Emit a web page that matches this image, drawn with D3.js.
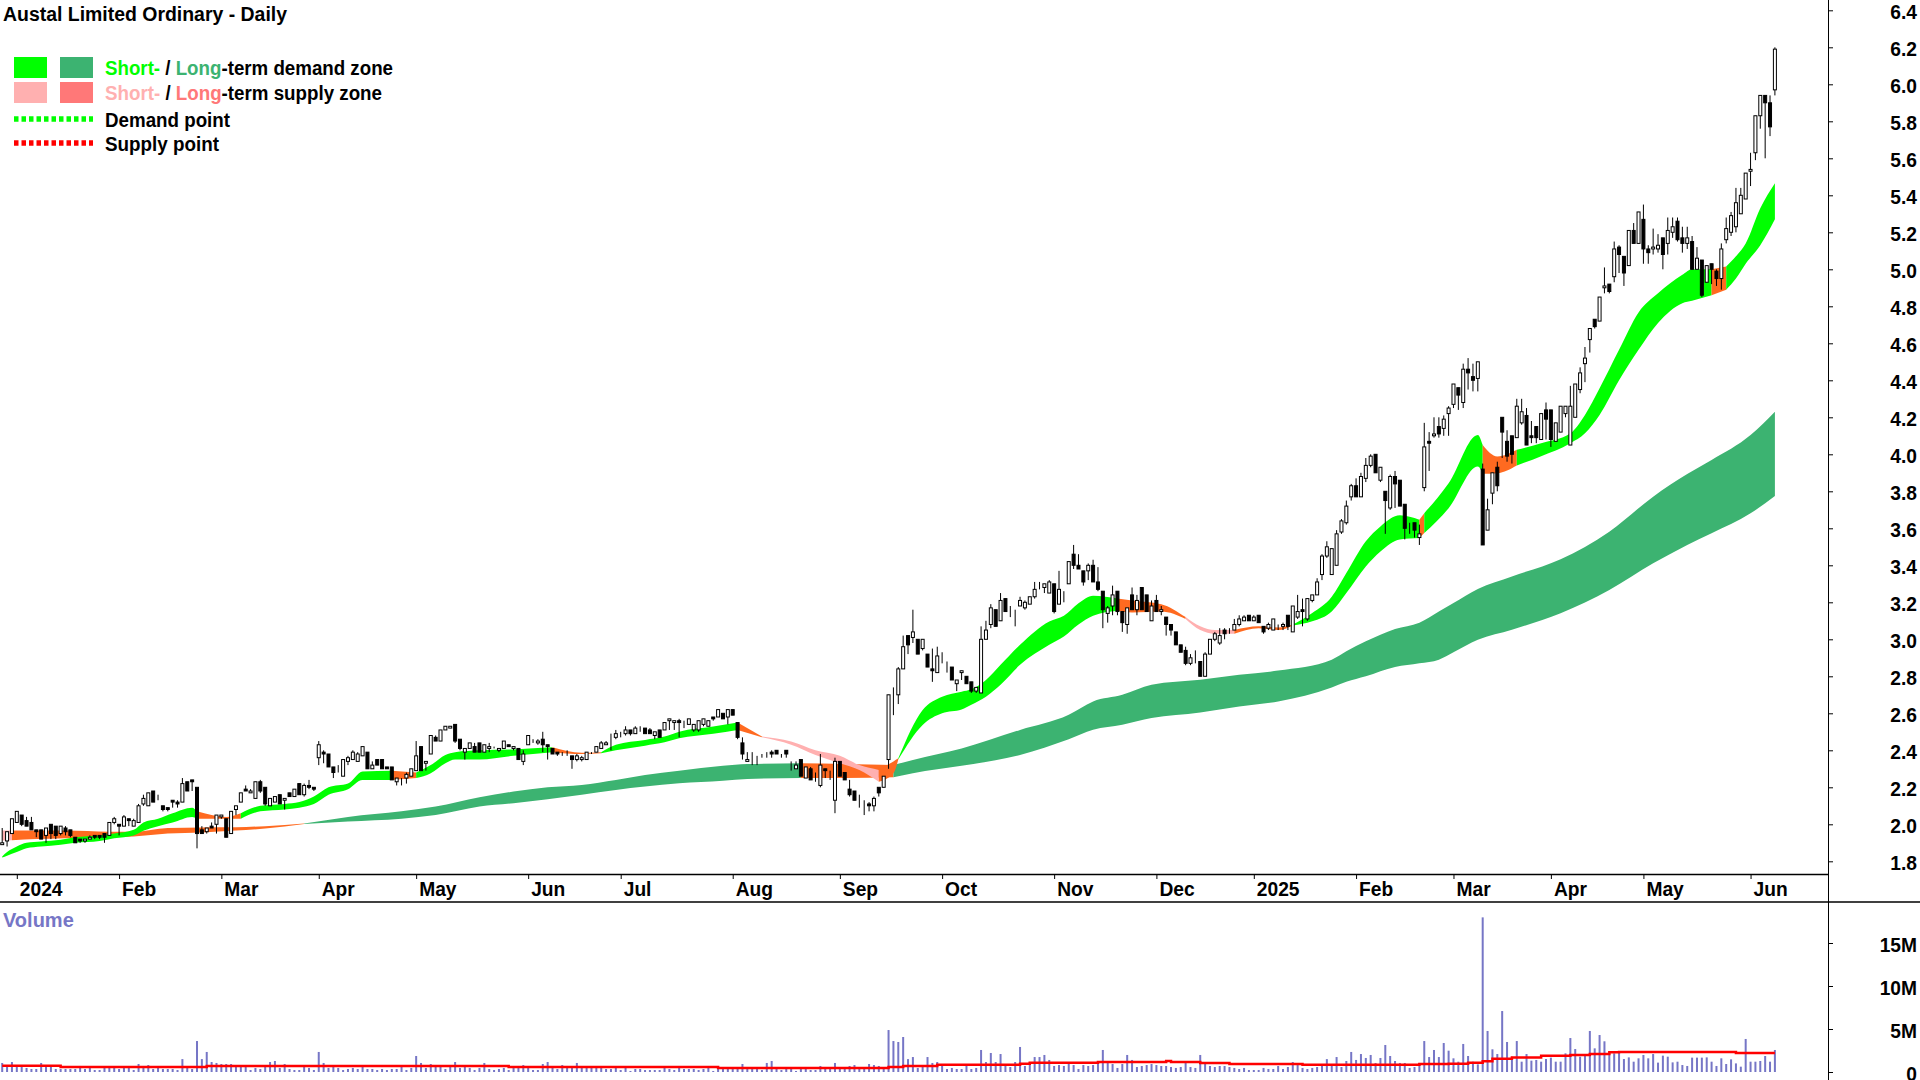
<!DOCTYPE html>
<html>
<head>
<meta charset="utf-8">
<title>Austal Limited Ordinary - Daily</title>
<script src="https://cdn.jsdelivr.net/npm/d3@7"></script>
<style>
    body { margin: 0; background: #fff; }
    svg { display: block; }
    text { font-family: "Liberation Sans", Arial, sans-serif; font-weight: bold; }
</style>
</head>
<body>
<div id="chart"></div>
<script>
// daily bars: open, high, low, close
const ohlc = [
[1.89,1.98,1.89,1.90],[1.91,1.96,1.88,1.96],[1.95,2.03,1.95,2.03],[2.01,2.07,2.01,2.07],[2.05,2.05,1.99,2.00],[2.02,2.04,1.99,1.99],[2.01,2.04,1.97,1.97],[1.97,1.97,1.93,1.96],[1.97,1.97,1.92,1.92],[1.94,1.98,1.90,1.98],
[2.00,2.00,1.92,1.95],[1.99,1.99,1.92,1.94],[1.95,1.99,1.94,1.99],[1.98,1.99,1.94,1.96],[1.97,1.97,1.93,1.94],[1.93,1.93,1.90,1.90],[1.92,1.92,1.90,1.91],[1.91,1.92,1.90,1.92],[1.92,1.94,1.92,1.93],[1.94,1.94,1.92,1.93],
[1.94,1.94,1.92,1.93],[1.95,1.95,1.90,1.93],[1.94,2.01,1.94,2.01],[2.01,2.04,2.00,2.03],[2.00,2.00,1.94,1.99],[1.99,2.05,1.99,2.04],[2.03,2.03,1.99,2.02],[1.99,2.03,1.99,2.02],[2.01,2.11,2.01,2.10],[2.11,2.16,2.10,2.14],
[2.10,2.17,2.10,2.17],[2.18,2.18,2.12,2.12],[2.13,2.16,2.13,2.13],[2.10,2.10,2.07,2.08],[2.09,2.09,2.07,2.08],[2.13,2.13,2.09,2.12],[2.12,2.13,2.09,2.11],[2.12,2.25,2.12,2.22],[2.23,2.23,2.18,2.18],[2.24,2.24,2.18,2.23],
[2.20,2.20,1.87,1.95],[1.97,1.99,1.95,1.95],[1.96,1.98,1.95,1.98],[1.99,2.01,1.98,1.98],[2.00,2.05,1.95,2.05],[2.04,2.05,2.03,2.05],[2.03,2.03,1.93,1.93],[1.95,2.07,1.95,2.07],[2.08,2.10,2.05,2.10],[2.12,2.17,2.12,2.17],
[2.19,2.21,2.18,2.18],[2.17,2.19,2.17,2.18],[2.14,2.23,2.14,2.23],[2.23,2.24,2.17,2.18],[2.20,2.20,2.10,2.11],[2.10,2.14,2.10,2.14],[2.12,2.15,2.12,2.15],[2.16,2.16,2.11,2.11],[2.13,2.14,2.08,2.14],[2.17,2.17,2.15,2.15],
[2.15,2.19,2.15,2.19],[2.22,2.22,2.16,2.16],[2.16,2.22,2.15,2.21],[2.21,2.24,2.19,2.20],[2.20,2.20,2.18,2.19],[2.36,2.45,2.32,2.43],[2.39,2.40,2.33,2.38],[2.38,2.38,2.31,2.31],[2.31,2.31,2.25,2.28],[2.30,2.32,2.28,2.30],
[2.26,2.35,2.26,2.35],[2.34,2.37,2.32,2.36],[2.35,2.40,2.35,2.39],[2.34,2.39,2.34,2.38],[2.37,2.42,2.37,2.42],[2.39,2.39,2.30,2.30],[2.30,2.34,2.30,2.32],[2.35,2.35,2.32,2.32],[2.35,2.35,2.30,2.30],[2.31,2.31,2.30,2.30],
[2.31,2.31,2.24,2.24],[2.23,2.25,2.21,2.25],[2.25,2.25,2.21,2.25],[2.25,2.28,2.22,2.27],[2.26,2.30,2.26,2.30],[2.29,2.45,2.29,2.37],[2.42,2.42,2.29,2.29],[2.33,2.34,2.29,2.34],[2.38,2.48,2.38,2.48],[2.47,2.48,2.45,2.45],
[2.45,2.51,2.45,2.51],[2.51,2.53,2.51,2.53],[2.52,2.53,2.52,2.53],[2.54,2.54,2.44,2.45],[2.46,2.46,2.40,2.41],[2.39,2.41,2.35,2.41],[2.41,2.44,2.41,2.44],[2.42,2.44,2.39,2.39],[2.44,2.44,2.39,2.39],
[2.39,2.43,2.39,2.43],[2.41,2.44,2.39,2.42],[2.42,2.42,2.41,2.42],[2.40,2.41,2.39,2.41],[2.41,2.45,2.41,2.45],[2.43,2.43,2.42,2.42],[2.41,2.42,2.40,2.42],[2.41,2.41,2.35,2.35],[2.34,2.40,2.32,2.38],[2.43,2.48,2.43,2.48],
[2.45,2.46,2.44,2.45],[2.44,2.46,2.43,2.45],[2.46,2.50,2.39,2.43],[2.43,2.43,2.35,2.42],[2.41,2.41,2.38,2.38],[2.39,2.39,2.37,2.38],[2.38,2.39,2.37,2.38],[2.38,2.40,2.37,2.38],[2.37,2.37,2.30,2.35],[2.35,2.38,2.34,2.37],
[2.35,2.37,2.34,2.36],[2.35,2.39,2.35,2.39],[2.39,2.39,2.38,2.39],[2.39,2.42,2.39,2.42],[2.41,2.45,2.41,2.44],[2.43,2.45,2.43,2.44],[2.47,2.49,2.40,2.47],[2.47,2.51,2.46,2.49],[2.48,2.50,2.47,2.48],[2.49,2.53,2.48,2.51],
[2.51,2.51,2.48,2.49],[2.49,2.53,2.49,2.52],[2.51,2.53,2.50,2.51],[2.52,2.52,2.49,2.49],[2.51,2.52,2.49,2.49],[2.48,2.50,2.46,2.50],[2.51,2.51,2.47,2.47],[2.51,2.55,2.51,2.55],[2.56,2.57,2.51,2.57],[2.55,2.56,2.51,2.56],
[2.56,2.57,2.47,2.55],[2.55,2.56,2.52,2.55],[2.54,2.57,2.54,2.57],[2.51,2.54,2.50,2.54],[2.51,2.56,2.50,2.56],[2.54,2.57,2.53,2.57],[2.53,2.56,2.53,2.56],[2.58,2.58,2.56,2.57],[2.58,2.62,2.58,2.62],[2.60,2.60,2.57,2.57],
[2.58,2.62,2.54,2.62],[2.62,2.62,2.59,2.59],[2.55,2.55,2.46,2.47],[2.44,2.47,2.35,2.38],[2.34,2.39,2.34,2.35],[2.36,2.39,2.32,2.36],[2.35,2.37,2.32,2.35],[2.38,2.38,2.36,2.38],[2.38,2.39,2.36,2.38],[2.39,2.40,2.36,2.38],
[2.40,2.40,2.38,2.38],[2.38,2.38,2.36,2.38],[2.40,2.40,2.36,2.38],[2.32,2.34,2.29,2.32],[2.30,2.34,2.30,2.32],[2.35,2.35,2.26,2.26],[2.25,2.31,2.25,2.31],[2.30,2.31,2.24,2.24],[2.25,2.28,2.23,2.25],[2.21,2.38,2.20,2.32],
[2.30,2.30,2.25,2.29],[2.28,2.29,2.24,2.28],[2.13,2.36,2.06,2.34],[2.34,2.34,2.26,2.26],[2.28,2.28,2.24,2.24],[2.19,2.24,2.15,2.16],[2.18,2.18,2.13,2.13],[2.12,2.16,2.09,2.12],[2.10,2.13,2.05,2.10],[2.11,2.12,2.07,2.10],
[2.10,2.15,2.07,2.14],[2.20,2.20,2.15,2.17],[2.20,2.26,2.20,2.26],[2.35,2.70,2.30,2.70],[2.71,2.74,2.59,2.71],[2.70,2.85,2.65,2.84],[2.84,3.02,2.84,2.96],[3.02,3.02,2.92,2.97],[3.01,3.16,2.98,3.04],[3.00,3.00,2.92,2.92],
[2.95,3.00,2.94,3.00],[2.92,2.92,2.85,2.85],[2.84,2.95,2.77,2.83],[2.82,2.96,2.82,2.91],[2.88,2.93,2.87,2.88],[2.85,2.88,2.82,2.85],[2.85,2.85,2.78,2.78],[2.76,2.78,2.72,2.78],[2.82,2.83,2.78,2.83],[2.80,2.80,2.76,2.76],
[2.77,2.77,2.71,2.72],[2.72,2.74,2.71,2.74],[2.71,3.07,2.71,3.00],[3.00,3.10,3.00,3.05],[3.08,3.19,3.06,3.17],[3.16,3.16,3.07,3.07],[3.10,3.25,3.10,3.21],[3.22,3.22,3.15,3.15],[3.16,3.18,3.12,3.16],[3.15,3.16,3.07,3.15],
[3.18,3.23,3.18,3.21],[3.17,3.21,3.16,3.20],[3.19,3.23,3.19,3.23],[3.23,3.31,3.22,3.27],[3.28,3.31,3.27,3.28],[3.28,3.30,3.25,3.30],[3.25,3.32,3.25,3.31],[3.30,3.30,3.14,3.15],[3.19,3.37,3.19,3.27],[3.25,3.26,3.20,3.25],
[3.30,3.42,3.30,3.42],[3.46,3.51,3.38,3.40],[3.40,3.46,3.38,3.38],[3.37,3.37,3.29,3.31],[3.37,3.41,3.32,3.40],[3.40,3.43,3.31,3.31],[3.31,3.39,3.26,3.27],[3.26,3.26,3.06,3.16],[3.14,3.18,3.09,3.17],[3.18,3.29,3.13,3.24],
[3.26,3.26,3.13,3.15],[3.15,3.15,3.04,3.09],[3.08,3.17,3.03,3.17],[3.24,3.28,3.16,3.16],[3.16,3.24,3.13,3.21],[3.28,3.28,3.16,3.16],[3.24,3.24,3.15,3.15],[3.10,3.21,3.10,3.18],[3.21,3.24,3.15,3.15],[3.15,3.18,3.13,3.16],
[3.12,3.12,3.02,3.08],[3.08,3.08,3.02,3.05],[3.04,3.04,2.97,2.97],[2.97,2.97,2.93,2.93],[2.94,2.96,2.86,2.87],[2.87,2.92,2.86,2.90],[2.88,2.94,2.87,2.88],[2.88,2.88,2.80,2.80],[2.80,2.93,2.80,2.92],[2.92,3.00,2.92,3.00],
[3.00,3.04,2.99,3.03],[2.98,3.06,2.97,3.02],[3.05,3.06,3.00,3.03],[3.05,3.06,3.03,3.05],[3.05,3.11,3.05,3.08],[3.08,3.13,3.07,3.11],[3.10,3.13,3.10,3.12],[3.13,3.13,3.10,3.10],[3.10,3.13,3.10,3.12],[3.13,3.13,3.09,3.09],
[3.07,3.07,3.03,3.04],[3.06,3.09,3.05,3.08],[3.05,3.11,3.05,3.11],[3.07,3.08,3.05,3.07],
[3.07,3.09,3.05,3.08],[3.13,3.13,3.05,3.07],[3.04,3.18,3.04,3.18],[3.12,3.24,3.11,3.15],[3.16,3.22,3.07,3.15],[3.11,3.22,3.10,3.22],[3.21,3.24,3.20,3.24],[3.24,3.33,3.24,3.31],[3.35,3.46,3.32,3.45],[3.45,3.53,3.44,3.50],
[3.35,3.49,3.35,3.49],[3.40,3.59,3.40,3.57],[3.58,3.65,3.57,3.64],[3.63,3.75,3.62,3.72],[3.77,3.84,3.75,3.83],[3.83,3.87,3.77,3.77],[3.77,3.90,3.77,3.88],[3.87,3.98,3.85,3.94],[3.94,4.00,3.93,3.99],[4.00,4.00,3.90,3.90],
[3.86,3.93,3.85,3.93],[3.80,3.80,3.57,3.75],[3.71,3.89,3.70,3.88],[3.88,3.91,3.71,3.84],[3.86,3.86,3.72,3.72],[3.73,3.73,3.54,3.60],[3.61,3.63,3.57,3.61],[3.63,3.63,3.55,3.59],[3.55,3.62,3.51,3.57],[3.82,4.17,3.80,4.04],
[4.07,4.12,3.91,4.06],[4.10,4.20,4.09,4.11],[4.15,4.20,4.09,4.11],[4.14,4.21,4.10,4.19],[4.22,4.26,4.10,4.25],[4.27,4.38,4.25,4.38],[4.36,4.36,4.24,4.32],[4.28,4.49,4.25,4.46],[4.46,4.52,4.35,4.44],[4.42,4.49,4.34,4.40],
[4.41,4.50,4.34,4.50],[3.92,3.95,3.51,3.51],[3.59,3.76,3.59,3.70],[3.79,3.90,3.73,3.90],[3.93,3.96,3.80,3.83],[4.20,4.20,3.98,4.12],[4.07,4.13,3.96,3.99],[4.10,4.10,3.95,4.00],[4.09,4.30,4.09,4.26],[4.17,4.30,4.16,4.23],
[4.21,4.25,4.05,4.05],[4.10,4.18,4.06,4.09],[4.15,4.15,4.06,4.09],[4.08,4.22,4.08,4.22],[4.24,4.28,4.08,4.19],[4.24,4.24,4.04,4.08],[4.07,4.17,4.07,4.17],[4.12,4.26,4.12,4.26],[4.22,4.26,4.20,4.26],[4.05,4.37,4.05,4.26],
[4.20,4.38,4.20,4.38],[4.35,4.47,4.33,4.44],[4.49,4.58,4.39,4.52],[4.62,4.68,4.55,4.68],[4.73,4.73,4.68,4.69],[4.72,4.85,4.72,4.85],[4.90,5.01,4.87,4.91],[4.92,4.92,4.87,4.88],[4.96,5.15,4.93,5.11],[5.12,5.13,4.98,5.08],
[5.07,5.07,4.91,4.98],[5.02,5.21,5.02,5.21],[5.21,5.25,5.14,5.14],[5.14,5.31,5.14,5.31],[5.27,5.35,5.03,5.11],[5.11,5.13,5.03,5.09],[5.11,5.22,5.08,5.12],[5.11,5.19,5.09,5.13],[5.17,5.17,5.00,5.08],[5.14,5.28,5.08,5.21],
[5.20,5.28,5.17,5.23],[5.26,5.28,5.15,5.16],[5.17,5.23,5.09,5.14],[5.14,5.23,5.11,5.17],[5.15,5.18,5.00,5.00],[5.00,5.12,5.00,5.06],[5.05,5.05,4.85,4.86],[4.93,5.02,4.93,5.02],[5.03,5.03,4.92,5.00],[4.99,5.00,4.91,4.95],
[4.95,5.14,4.89,5.11],[5.16,5.28,5.14,5.22],[5.20,5.31,5.18,5.29],[5.23,5.44,5.20,5.36],[5.30,5.44,5.30,5.40],[5.38,5.52,5.38,5.52],[5.53,5.63,5.45,5.54],[5.63,5.83,5.59,5.83],[5.83,5.94,5.76,5.94],[5.94,5.94,5.60,5.90],
[5.90,5.94,5.72,5.77],[5.97,6.20,5.94,6.19]
];

// volume in millions, one per bar
const volumes = [
1.05,.7,1.16,.58,.58,.47,.35,.35,1.05,.7,.81,.35,.35,.35,.35,.35,.7,.35,.47,.23,
.23,.47,.58,.58,.35,.47,.58,.23,.93,.7,.81,.35,.47,.35,.35,.35,.23,1.5,.47,.35,
3.6,1.5,2.33,1.16,1.05,.93,.93,.93,.7,.81,.58,.23,.47,.35,.7,1.16,1.28,.47,.93,.35,
.23,.23,.7,.47,.23,2.33,1.05,.47,.58,.47,.23,.35,.47,.35,.58,.35,.35,.23,.35,.23,
.35,.35,.7,.23,.47,1.86,1.05,.47,.93,.81,.7,.35,.58,1.16,.47,.7,.47,.23,.47,1.05,
.35,.23,.35,.47,.23,.47,.47,
.81,.47,.23,.23,.93,1.16,.47,.35,.81,.7,.47,1.05,.58,.58,.58,.58,.58,.35,.35,.58,
.23,.58,.12,.35,.35,.23,.23,.23,.23,.58,.35,.23,.47,.35,.35,.35,.23,.35,.47,.12,
.35,.35,.47,.47,.47,.93,.35,.35,.35,.23,1.05,1.28,.35,.23,.47,.35,.12,.47,.35,.23,
.23,.7,.58,.35,1.05,.58,.58,.7,.81,.47,.58,.93,.81,.7,.35,4.88,3.6,3.49,4.07,1.5,
1.74,.47,.58,1.74,1.05,1.16,.81,.35,.47,.35,.35,.7,.35,.47,2.56,1.16,2.21,1.16,2.09,.93,
.58,1.16,2.91,.7,1.16,1.74,1.74,
1.98,1.4,.7,.81,.7,1.16,.81,.35,.81,.7,.81,.93,2.56,1.05,.93,.47,.93,1.98,1.4,.58,
.7,.81,.93,.81,.7,.7,.58,.47,.58,1.05,.58,.47,1.98,.93,.7,.58,.7,.7,.58,.47,
.35,.47,.23,.23,.23,.47,.35,.35,.7,.35,.58,1.16,.81,.47,.35,.47,.58,.93,1.5,.81,
1.74,.58,1.28,2.33,1.4,2.09,1.63,1.98,1.05,1.63,3.14,1.86,1.28,1.05,1.05,.47,.58,1.05,3.6,1.74,
2.56,1.74,
3.37,2.48,1.59,1.2,3.26,1.86,1.2,.89,17.98,4.77,2.64,2.09,7.09,3.49,1.78,3.6,1.2,2.09,1.32,1.4,
1.2,1.51,1.67,1.2,1.2,2.17,3.95,2.67,1.78,1.9,4.77,2.75,4.3,3.57,2.25,2.17,2.25,1.51,1.7,1.2,
1.59,1.98,1.59,2.09,1.09,1.9,1.78,1.12,1.2,.81,.7,1.67,1.67,1.67,1.7,1.2,.7,1.59,.93,1.47,
1.0,.62,3.84,1.2,1.2,1.28,1.86,1.2,2.56
];

// average volume line, stepped: bar where the level starts, level in millions
const avgVolBar = [0,12,42,104,147,182,185,192,209,211,225,239,240,246,252,267,291,297,301,304,306,310,316,322,326,330,332,356,364];
const avgVolLevel = [.74,.58,.7,.58,.47,.58,.7,.85,.97,1.09,1.16,1.28,1.16,1.05,.93,.85,.93,.95,1.09,1.24,1.55,1.7,1.9,1.98,2.09,2.3,2.33,2.2,2.2];

// short term zone, read at these bars
const shortBar = [0,1,3,5,8,12,15,20,23,27,29,32,35,39,40,43,46,49,53,58,61,64,67,71,74,80,85,88,91,93,98,105,113,119,123,126,132,136,139,146,151,156,162,167,172,176,180,183,184,189,193,197,199,202,205,209,215,218,221,224,229,232,238,243,246,249,253,258,262,265,269,273,276,280,283,287,291,292,297,303,304,307,311,316,322,325,328,332,336,340,345,347,351,354,356,358,361,364];
const shortTop = [1.826,1.85,1.88,1.90,1.907,1.916,1.93,1.94,1.95,1.97,2.01,2.03,2.06,2.09,2.07,2.05,2.04,2.06,2.10,2.11,2.12,2.15,2.20,2.22,2.285,2.29,2.28,2.32,2.375,2.39,2.40,2.405,2.416,2.387,2.39,2.43,2.456,2.474,2.50,2.528,2.55,2.474,2.447,2.40,2.37,2.32,2.294,2.34,2.357,2.618,2.69,2.717,2.73,2.78,2.862,2.97,3.096,3.127,3.195,3.236,3.22,3.21,3.19,3.12,3.07,3.05,3.05,3.07,3.064,3.08,3.142,3.23,3.358,3.53,3.61,3.67,3.646,3.682,3.844,4.105,4.05,3.988,4.024,4.06,4.114,4.213,4.357,4.565,4.767,4.87,4.97,5.0,5.0,5.015,5.07,5.14,5.33,5.465];
const shortBottom = [1.82,1.83,1.85,1.87,1.88,1.89,1.90,1.91,1.925,1.94,1.965,1.99,2.01,2.04,2.03,2.03,2.03,2.03,2.07,2.08,2.09,2.11,2.16,2.19,2.24,2.24,2.25,2.276,2.33,2.35,2.35,2.37,2.39,2.38,2.384,2.40,2.425,2.443,2.465,2.49,2.51,2.47,2.43,2.375,2.33,2.294,2.23,2.276,2.35,2.537,2.60,2.62,2.646,2.69,2.754,2.862,2.97,3.015,3.08,3.127,3.154,3.145,3.15,3.11,3.05,3.03,3.03,3.06,3.05,3.075,3.097,3.15,3.25,3.394,3.475,3.54,3.547,3.574,3.709,3.934,3.895,3.898,3.94,3.99,4.06,4.114,4.213,4.40,4.565,4.71,4.817,4.83,4.86,4.89,4.95,5.03,5.13,5.27];

// long term zone
const longBar = [0,2,7,13,22,27,34,41,48,54,62,71,82,89,98,105,112,119,126,132,139,148,153,164,173,183,187,197,209,219,224,230,236,246,254,262,273,276,280,286,291,295,298,303,310,320,330,339,346,351,359,364];
const longTop = [1.966,1.966,1.966,1.966,1.96,1.96,1.98,1.983,1.984,1.99,2.004,2.04,2.07,2.096,2.146,2.177,2.20,2.213,2.24,2.267,2.29,2.316,2.326,2.33,2.326,2.32,2.348,2.41,2.51,2.592,2.664,2.70,2.754,2.781,2.808,2.831,2.89,2.935,2.989,3.056,3.09,3.15,3.196,3.272,3.34,3.433,3.582,3.771,3.893,3.969,4.104,4.23];
const longBottom = [1.912,1.914,1.92,1.925,1.93,1.934,1.95,1.956,1.966,1.977,2.002,2.015,2.03,2.05,2.096,2.114,2.136,2.16,2.186,2.204,2.222,2.236,2.245,2.25,2.25,2.254,2.276,2.316,2.375,2.46,2.511,2.538,2.574,2.605,2.637,2.664,2.74,2.77,2.80,2.85,2.87,2.89,2.93,2.998,3.052,3.141,3.267,3.411,3.51,3.573,3.681,3.775];

// which stretch of each zone has which colour
const shortSpans = [[0,40,"demandShort"],[40,49,"overlap"],[49,80,"demandShort"],[80,85,"overlap"],[85,113,"demandShort"],[113,123,"overlap"],[123,151,"demandShort"],[151,156,"overlap"],[156,180,"supplyShort"],[180,184,"overlap"],[184,229,"demandShort"],[229,243,"overlap"],[243,253,"supplyShort"],[253,265,"overlap"],[265,291,"demandShort"],[291,292,"overlap"],[292,304,"demandShort"],[304,311,"overlap"],[311,351,"demandShort"],[351,354,"overlap"],[354,364,"demandShort"]];
const longSpans = [[0,2,"supplyShort"],[2,62,"overlap"],[62,164,"demandLong"],[164,183,"overlap"],[183,364,"demandLong"]];

const zoneColors = { demandShort: "#00ff00", demandLong: "#3cb371", supplyShort: "#ffb0b0", supplyLong: "#ff7878", overlap: "#ff6a20" };

const monthLabels = ["2024","Feb","Mar","Apr","May","Jun","Jul","Aug","Sep","Oct","Nov","Dec","2025","Feb","Mar","Apr","May","Jun"];
const monthBars = [3,24,45,65,85,108,127,150,172,193,216,237,257,278,298,318,337,359];
const priceTicks = [1.8,2.0,2.2,2.4,2.6,2.8,3.0,3.2,3.4,3.6,3.8,4.0,4.2,4.4,4.6,4.8,5.0,5.2,5.4,5.6,5.8,6.0,6.2,6.4];
const volumeTicks = [0,5,10,15];

const width = 1920;
const height = 1080;
const plotRight = 1828;
const volumeColor = "#7676c6";

const svg = d3.select("#chart")
    .append("svg")
    .attr("width", width)
    .attr("height", height);

const xScale = d3.scaleLinear().domain([0, 364]).range([2.2, 1774.9]);
const yScale = d3.scaleLinear().domain([1.8, 6.4]).range([861.3, 10.3]);
const volScale = d3.scaleLinear().domain([0, 15]).range([1072, 943]);

// the reference type is a bit narrower than Liberation Sans
function squeeze(sel, factor) {
    sel.each(function () {
        d3.select(this)
            .attr("textLength", this.getComputedTextLength() * factor)
            .attr("lengthAdjust", "spacingAndGlyphs");
    });
}

// Zones, long first so the short zone sits on top
function drawZone(bars, top, bottom, spans) {
    const rows = bars.map((b, i) => ({ bar: b, top: top[i], bottom: bottom[i] }));
    const area = d3.area()
        .x(d => xScale(d.bar))
        .y0(d => yScale(d.bottom))
        .y1(d => yScale(d.top))
        .curve(d3.curveMonotoneX);
    svg.append("g").selectAll("path")
        .data(spans)
        .enter().append("path")
        .attr("d", s => area(rows.filter(r => r.bar >= s[0] && r.bar <= s[1])))
        .attr("fill", s => zoneColors[s[2]]);
}
drawZone(longBar, longTop, longBottom, longSpans);
drawZone(shortBar, shortTop, shortBottom, shortSpans);

// Candles
const candles = svg.append("g").selectAll("g")
    .data(ohlc)
    .enter().append("g");

candles.append("line")
    .attr("x1", (d, i) => xScale(i))
    .attr("x2", (d, i) => xScale(i))
    .attr("y1", d => yScale(d[1]))
    .attr("y2", d => yScale(d[2]))
    .attr("stroke", "#000")
    .attr("stroke-width", 1);

candles.append("rect")
    .attr("x", (d, i) => xScale(i) - 1.5)
    .attr("width", 3)
    .attr("y", d => yScale(Math.max(d[0], d[3])))
    .attr("height", d => Math.abs(yScale(d[0]) - yScale(d[3])))
    .attr("fill", d => d[3] >= d[0] ? "#fff" : "#000")
    .attr("stroke", "#000")
    .attr("stroke-width", 1);

// Volume bars and average
svg.append("g").selectAll("rect")
    .data(volumes)
    .enter().append("rect")
    .attr("x", (d, i) => xScale(i) - 1)
    .attr("width", 2)
    .attr("y", d => volScale(d))
    .attr("height", d => volScale(0) - volScale(d))
    .attr("fill", volumeColor);

const avgLine = d3.line()
    .x(d => xScale(d[0]))
    .y(d => volScale(d[1]))
    .curve(d3.curveStepAfter);

svg.append("path")
    .datum(avgVolBar.map((b, i) => [b, avgVolLevel[i]]))
    .attr("d", avgLine)
    .attr("fill", "none")
    .attr("stroke", "#ff0000")
    .attr("stroke-width", 2.5);

// Axes
const monthAxis = svg.append("g")
    .attr("transform", "translate(0,874)")
    .call(d3.axisBottom(xScale)
        .tickValues(monthBars)
        .tickFormat((d, i) => monthLabels[i])
        .tickSize(5)
        .tickSizeOuter(0));
monthAxis.select(".domain").attr("d", "M0,0.5H" + plotRight).attr("stroke", "#000").attr("stroke-width", 1.4);
monthAxis.selectAll("text")
    .attr("text-anchor", "start")
    .attr("x", 2.5)
    .attr("y", 8)
    .attr("font-size", 20)
    .attr("fill", "#000")
    .call(squeeze, 0.96);

svg.append("line")
    .attr("x1", 0).attr("x2", width)
    .attr("y1", 902).attr("y2", 902)
    .attr("stroke", "#000").attr("stroke-width", 1.4);

const priceAxis = svg.append("g")
    .attr("transform", "translate(" + plotRight + ",0)")
    .call(d3.axisRight(yScale)
        .tickValues(priceTicks)
        .tickFormat(d3.format(".1f"))
        .tickSize(5)
        .tickSizeOuter(0));
priceAxis.select(".domain").attr("d", "M0.5,0V" + height).attr("stroke", "#000");
priceAxis.selectAll("text")
    .attr("text-anchor", "end")
    .attr("x", 89)
    .attr("dy", "0.4em")
    .attr("font-size", 20)
    .attr("fill", "#000")
    .call(squeeze, 0.96);

const volAxis = svg.append("g")
    .attr("transform", "translate(" + plotRight + ",0)")
    .call(d3.axisRight(volScale)
        .tickValues(volumeTicks)
        .tickFormat(d => d === 0 ? "0" : d + "M")
        .tickSize(5)
        .tickSizeOuter(0));
volAxis.select(".domain").remove();
volAxis.selectAll("text")
    .attr("text-anchor", "end")
    .attr("x", 89)
    .attr("dy", "0.4em")
    .attr("font-size", 20)
    .attr("fill", "#000")
    .call(squeeze, 0.96);

// Title and labels
svg.append("text")
    .attr("x", 3).attr("y", 21)
    .attr("font-size", 20)
    .attr("fill", "#000")
    .attr("textLength", 284)
    .attr("lengthAdjust", "spacingAndGlyphs")
    .text("Austal Limited Ordinary - Daily");

svg.append("text")
    .attr("x", 3).attr("y", 927)
    .attr("font-size", 20)
    .attr("fill", volumeColor)
    .text("Volume");

// Legend
const legend = svg.append("g");
const swatches = [[14, 57, "demandShort"], [60, 57, "demandLong"], [14, 82, "supplyShort"], [60, 82, "supplyLong"]];
legend.selectAll("rect")
    .data(swatches)
    .enter().append("rect")
    .attr("x", d => d[0]).attr("y", d => d[1])
    .attr("width", 33).attr("height", 21)
    .attr("fill", d => zoneColors[d[2]]);

function legendText(y, len, parts) {
    const t = legend.append("text")
        .attr("x", 105).attr("y", y)
        .attr("font-size", 20)
        .attr("textLength", len)
        .attr("lengthAdjust", "spacingAndGlyphs");
    parts.forEach(p => t.append("tspan").attr("fill", p[1]).text(p[0]));
}
legendText(75, 288, [["Short-", zoneColors.demandShort], [" / ", "#000"], ["Long", zoneColors.demandLong], ["-term demand zone", "#000"]]);
legendText(100, 277, [["Short-", zoneColors.supplyShort], [" / ", "#000"], ["Long", zoneColors.supplyLong], ["-term supply zone", "#000"]]);
legendText(127, 125, [["Demand point", "#000"]]);
legendText(151, 114, [["Supply point", "#000"]]);

[[119, "#00ff00"], [143, "#ff0000"]].forEach(d => {
    legend.append("line")
        .attr("x1", 14).attr("x2", 93)
        .attr("y1", d[0]).attr("y2", d[0])
        .attr("stroke", d[1])
        .attr("stroke-width", 5.5)
        .attr("stroke-dasharray", "4.5 3");
});
</script>
</body>
</html>
